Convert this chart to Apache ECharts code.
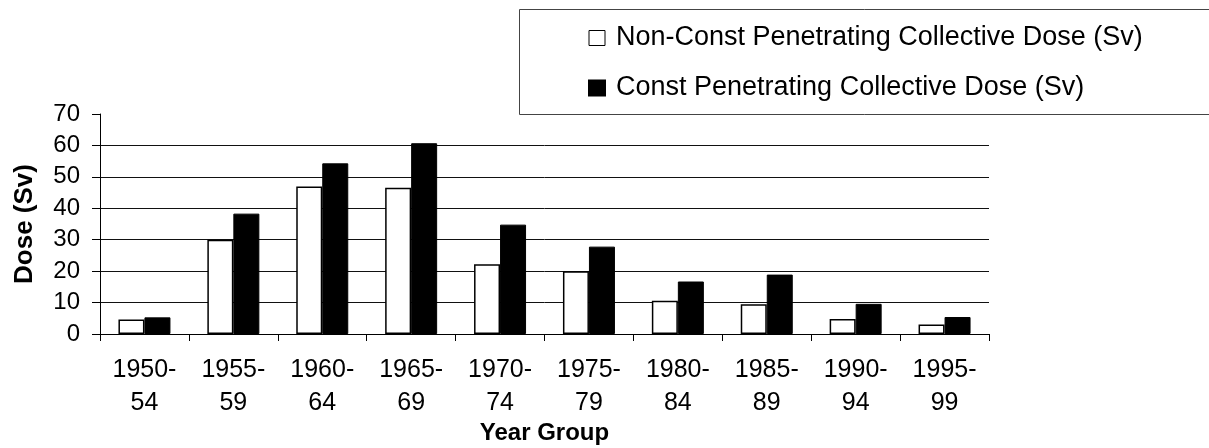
<!DOCTYPE html>
<html>
<head>
<meta charset="utf-8">
<script src="https://cdn.jsdelivr.net/npm/echarts@6/dist/echarts.min.js"></script>
<style>
  html, body { margin: 0; padding: 0; background: #fff; }
  #chart { width: 1209px; height: 448px; }
</style>
</head>
<body>
<div id="chart"></div>
<script>
const yearGroups = ['1950-\n54', '1955-\n59', '1960-\n64', '1965-\n69', '1970-\n74',
  '1975-\n79', '1980-\n84', '1985-\n89', '1990-\n94', '1995-\n99']
const nonConstDose = [4.6, 30.0, 46.9, 46.5, 22.2, 20.0, 10.6, 9.5, 4.8, 3.0]
const constDose = [5.3, 38.3, 54.3, 60.7, 34.8, 27.8, 16.7, 18.9, 9.6, 5.4]
const yTicks = { min: 0, max: 70, interval: 10 }

const font = '"Liberation Sans", Arial, sans-serif'

const chart = echarts.init(document.getElementById('chart'), null, { renderer: 'canvas' })

chart.setOption({
  backgroundColor: '#fff',
  animation: false,
  textStyle: { fontFamily: font, color: '#000' },
  graphic: [
    {
      type: 'rect',
      left: 517,
      top: 7,
      shape: { width: 760, height: 105 },
      style: { fill: 'none', stroke: '#444', lineWidth: 1 },
      z: 0,
    },
  ],
  legend: {
    orient: 'vertical',
    left: 588,
    top: 24,
    padding: 0,
    itemGap: 22,
    itemWidth: 16,
    itemHeight: 15,
    icon: 'rect',
    textStyle: { fontSize: 27, fontFamily: font, color: '#000', lineHeight: 28, padding: [0, 0, 0, 6] },
    data: [
      { name: 'Non-Const Penetrating Collective Dose (Sv)', itemStyle: { color: '#fff', borderColor: '#000', borderWidth: 1 } },
      { name: 'Const Penetrating Collective Dose (Sv)' },
    ],
  },
  grid: { left: 100, right: 220, top: 114, bottom: 114 },
  xAxis: {
    type: 'category',
    data: yearGroups,
    name: 'Year Group',
    nameLocation: 'middle',
    nameGap: 86,
    nameTextStyle: { fontSize: 24, fontWeight: 'bold', fontFamily: font, color: '#000' },
    axisLine: { lineStyle: { color: '#000', width: 1 } },
    axisTick: { show: true, length: 7, lineStyle: { color: '#000' } },
    axisLabel: { fontSize: 25, lineHeight: 33, margin: 20, color: '#000', interval: 0 },
  },
  yAxis: {
    type: 'value',
    min: yTicks.min,
    max: yTicks.max,
    interval: yTicks.interval,
    name: 'Dose (Sv)',
    nameLocation: 'middle',
    nameGap: 62,
    nameTextStyle: { fontSize: 26, fontWeight: 'bold', fontFamily: font, color: '#000' },
    axisLine: { show: true, lineStyle: { color: '#000', width: 1 } },
    axisTick: { show: true, length: 8, lineStyle: { color: '#000' } },
    axisLabel: { fontSize: 24, margin: 20, color: '#000' },
    splitLine: { show: true, showMaxLine: false, lineStyle: { color: '#111', width: 1 } },
  },
  series: [
    {
      name: 'Non-Const Penetrating Collective Dose (Sv)',
      type: 'bar',
      data: nonConstDose,
      barWidth: 26,
      barGap: '0%',
      itemStyle: { color: '#fff', borderColor: '#000', borderWidth: 1.5 },
    },
    {
      name: 'Const Penetrating Collective Dose (Sv)',
      type: 'bar',
      data: constDose,
      barWidth: 26,
      barGap: '0%',
      itemStyle: { color: '#000', borderColor: '#000', borderWidth: 1 },
    },
  ],
})
</script>
</body>
</html>
